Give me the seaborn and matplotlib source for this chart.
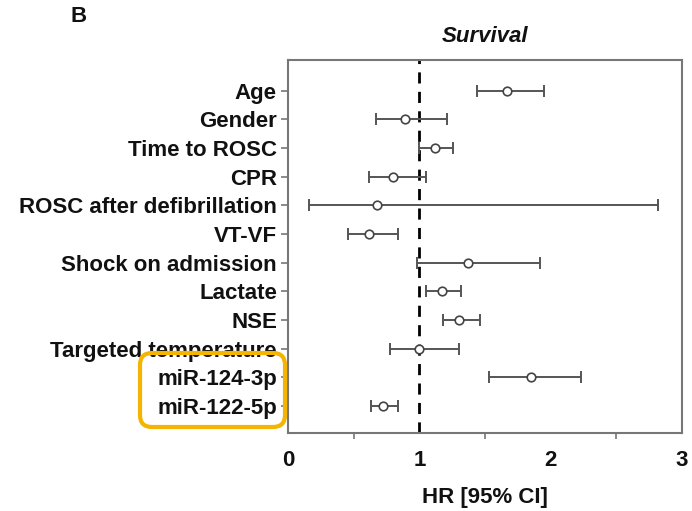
import matplotlib
matplotlib.use("Agg")
import matplotlib.pyplot as plt
from matplotlib.patches import FancyBboxPatch
from matplotlib.transforms import IdentityTransform
import seaborn as sns
import pandas as pd

variables = ["Age", "Gender", "Time to ROSC", "CPR", "ROSC after defibrillation",
             "VT-VF", "Shock on admission", "Lactate", "NSE", "Targeted temperature",
             "miR-124-3p", "miR-122-5p"]
hr = [1.67, 0.89, 1.12, 0.80, 0.68, 0.62, 1.37, 1.17, 1.30, 1.00, 1.85, 0.72]
ci_low = [1.44, 0.67, 1.00, 0.62, 0.16, 0.46, 0.98, 1.05, 1.18, 0.78, 1.53, 0.63]
ci_high = [1.95, 1.21, 1.26, 1.05, 2.82, 0.84, 1.92, 1.32, 1.46, 1.30, 2.23, 0.84]
xticks = [0, 1, 2, 3]

df = pd.DataFrame({"variable": variables, "hr": hr, "lo": ci_low, "hi": ci_high})

sns.set_style("white")
plt.rcParams["font.family"] = ["Liberation Sans", "DejaVu Sans"]

fig = plt.figure(figsize=(6.92, 5.11), dpi=100)
ax = fig.add_axes([0.4162, 0.1526, 0.9855 - 0.4162, 0.8826 - 0.1526])

ypos = list(range(len(variables)))
ax.axvline(1, color="black", lw=2, ls=(0, (4, 3)), zorder=1)
ax.errorbar(df["hr"], ypos,
            xerr=[df["hr"] - df["lo"], df["hi"] - df["hr"]],
            fmt="none", ecolor="#555555", elinewidth=1.4, capsize=4.5, capthick=1.4, zorder=2)
sns.scatterplot(data=df, x="hr", y=ypos, ax=ax, marker="o", s=38,
                facecolor="white", edgecolor="#444444", linewidth=1.2, zorder=3, legend=False)

ax.set_xlim(0, 3)
ax.set_ylim(11.95, -1.07)
ax.set_yticks(ypos)
ax.set_yticklabels(variables, fontsize=16, fontweight="bold", color="#111111")
ax.set_xticks(xticks)
ax.set_xticklabels([str(t) for t in xticks], fontsize=16, fontweight="bold", color="#111111")
ax.set_xticks([0.5, 1.5, 2.5], minor=True)
ax.tick_params(axis="x", which="major", length=0, pad=12)
ax.tick_params(axis="x", which="minor", length=4, width=1.2, color="#777777", direction="out", bottom=True)
ax.tick_params(axis="y", which="major", length=5, width=1.2, color="#777777", direction="out", left=True, pad=3)
for sp in ax.spines.values():
    sp.set_visible(True)
    sp.set_color("#777777")
    sp.set_linewidth(1.5)

ax.set_xlabel("HR [95% CI]", fontsize=16, fontweight="bold", color="#111111", labelpad=12)
ax.set_ylabel("")
ax.set_title("Survival", fontsize=16, fontweight="bold", style="italic", color="#111111", pad=13)
fig.text(70 / 692, 1 - 17 / 511, "B", fontsize=16, fontweight="bold", va="center", ha="left", color="#111111")

box = FancyBboxPatch((140, 511 - 427), 145, 74, boxstyle="round,pad=0,rounding_size=12",
                     transform=IdentityTransform(), fill=False, edgecolor="#F5B400", linewidth=3,
                     zorder=10)
fig.patches.append(box)

fig.savefig("out.png", dpi=100)
